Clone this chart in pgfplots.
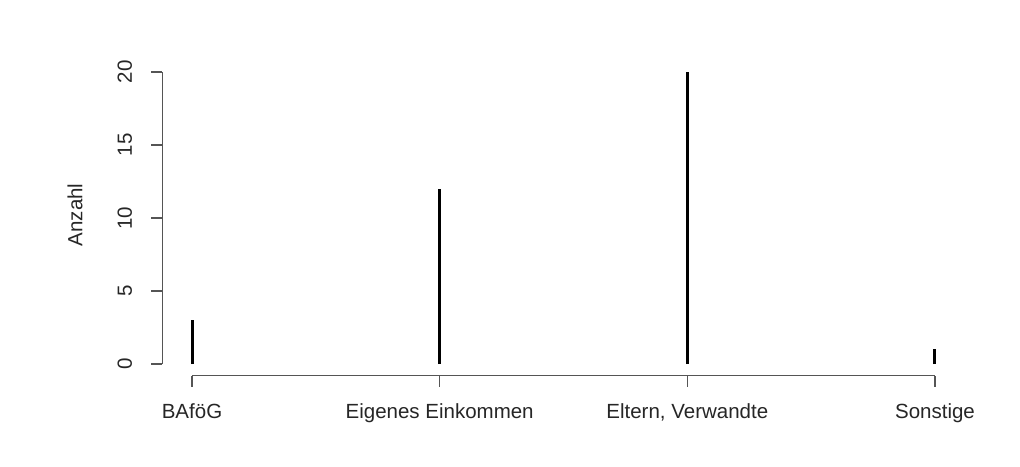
\documentclass[border=0pt]{standalone}
\usepackage{pgfplots}
\pgfplotsset{compat=1.18}
\usepackage{fontspec}
\setmainfont{Liberation Sans}
\definecolor{axcol}{HTML}{555555}
\begin{document}
\begin{tikzpicture}[x=1pt,y=1pt]
\useasboundingbox (0,0) rectangle (1020,466);
\begin{axis}[
  at={(162.3pt,90.3pt)}, anchor=south west,
  scale only axis, width=802.4pt, height=315.4pt,
  xmin=0.88, xmax=4.12, ymin=-0.8, ymax=20.8,
  axis x line*=bottom, axis y line*=left,
  axis line style={draw=none},
  clip=false,
  xtick={1,2,3,4},
  xticklabels={BAföG,Eigenes Einkommen,{Eltern, Verwandte},Sonstige},
  ytick={0,5,10,15,20},
  tick align=outside,
  major tick length=11pt,
  tick style={draw=axcol, line width=1.2pt},
  /pgf/number format/assume math mode=true,
  ticklabel style={font=\fontsize{20.5}{24}\selectfont, text=black!85},
  xticklabel style={yshift=-13pt},
  yticklabel style={rotate=90, anchor=south, inner sep=0pt, yshift=19pt},
  ylabel={Anzahl},
  every axis y label/.style={at={(axis description cs:-0.1088,0.51)}, rotate=90, anchor=center, font=\fontsize{20.5}{24}\selectfont, text=black!85},
]
\addplot[ycomb, black, line width=3pt, no marks] coordinates {(1,3) (2,12) (3,20) (4,1)};
\draw[axcol, line width=1.2pt] (axis cs:1,-0.8) -- (axis cs:4,-0.8);
\draw[axcol, line width=1.2pt] (axis cs:0.88,0) -- (axis cs:0.88,20);
\end{axis}
\end{tikzpicture}
\end{document}
